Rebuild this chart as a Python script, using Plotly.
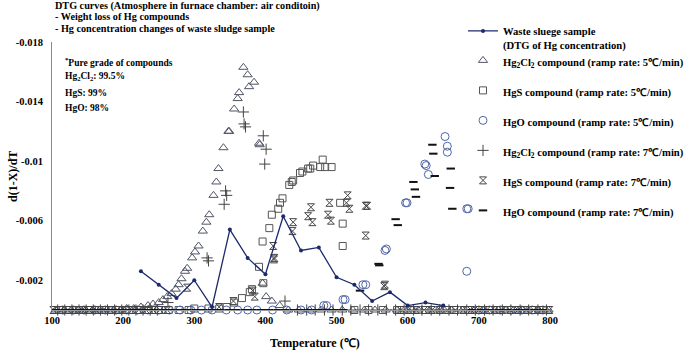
import plotly.graph_objects as go

# ---------------- data ----------------
sludge_T = [225, 250, 275, 300, 325, 350, 375, 400, 425, 450, 475, 500, 525, 550, 575, 600, 625, 650]
sludge_v = [-0.0026, -0.0017, -0.0008, -0.0020, -0.0002, -0.0054, -0.0035, -0.0024, -0.0063, -0.0040,
            -0.0042, -0.0022, -0.0017, -0.0006, -0.0012, -0.0003, -0.0005, -0.0003]

hg2cl2_5_T = [105, 118, 131, 144, 157, 170, 183, 196, 205, 215, 225, 235, 242, 250, 256, 262, 268, 274,
              278, 282, 287, 290, 297, 301, 306, 312, 317, 321, 327, 331, 334, 341, 348, 349, 356, 361,
              363, 369, 375, 377, 384, 391, 392, 396, 401, 409, 420, 432, 447, 462, 478, 493, 508, 523,
              539, 554, 569, 585, 600, 615, 631, 646, 661, 677, 692, 707, 723, 738, 753, 769, 784, 798]
hg2cl2_5_v = [0, 0, 0, 0, 0, 0, 0, 0, -0.0001, -0.0001, -0.0002, -0.0003, -0.0004, -0.0005, -0.0007,
              -0.0009, -0.0011, -0.0014, -0.0017, -0.0021, -0.0026, -0.0028, -0.0035, -0.0039, -0.0043,
              -0.0053, -0.0059, -0.0064, -0.0077, -0.0086, -0.0095, -0.0109, -0.0120, -0.0120, -0.0135,
              -0.0142, -0.0146, -0.0163, -0.0158, -0.0150, -0.0153, -0.0112, -0.0111, -0.0018, -0.0009,
              -0.0006, -0.0003, 0, 0, 0, 0, 0, 0, 0, 0, 0, 0, 0, 0, 0, 0, 0, 0, 0, 0, 0, 0, 0, 0, 0, 0, 0]

hgs_5_T = [110, 124, 138, 152, 166, 180, 194, 208, 222, 236, 250, 264, 278, 292, 300, 320, 335, 345.6,
           356, 367, 378, 381, 391, 396, 397, 405.5, 409, 418, 420.5, 424, 433.5, 437, 439, 448.6, 452,
           460, 463, 467, 477, 480.5, 484, 493, 505, 508.6, 508.6, 525, 545, 565, 585, 605, 625, 645,
           665, 685, 705, 725, 745, 765, 785]
hgs_5_v = [0, 0, 0, 0, 0, 0, 0, 0, 0, 0, 0, 0, 0, 0, -0.0001, -0.0001, -0.0001, -0.0002, -0.0005,
           -0.0008, -0.0012, -0.0014, -0.0029, -0.0046, -0.0018, -0.0055, -0.0064, -0.0068, -0.0072,
           -0.0075, -0.0084, -0.0086, -0.0087, -0.0092, -0.0093, -0.0095, -0.0095, -0.0097, -0.0096,
           -0.0101, -0.0096, -0.0096, -0.0072, -0.0058, -0.0043, 0, 0, 0, 0, 0, 0, 0, 0, 0, 0, 0, 0, 0, 0]

hgo_5_T = [115, 130, 145, 160, 175, 190, 205, 220, 235, 250, 265, 280, 295, 310, 325, 345, 361, 375,
           388, 410, 430, 450, 465, 482, 486, 509, 512, 537, 541, 568, 570, 597, 599, 624, 626, 629,
           652.5, 655.7, 655.7, 683, 685, 683, 700, 715, 730, 745, 760, 775, 790]
hgo_5_v = [0, 0, 0, 0, 0, 0, 0, 0, 0, 0, 0, 0, 0, 0, 0, 0, 0, 0, 0, 0, 0, 0, 0, -0.0003, -0.0003,
           -0.0007, -0.0007, -0.0017, -0.0017, -0.0040, -0.0041, -0.0072, -0.0072, -0.0098, -0.0097,
           -0.0091, -0.01165, -0.0110, -0.0106, -0.0068, -0.0068, -0.0026, 0, 0, 0, 0, 0, 0, 0]

hg2cl2_7_T = [108, 118, 128, 138, 148, 158, 168, 178, 188, 198, 208, 218, 228, 238, 248, 263, 318, 320,
              342, 344, 345.5, 369, 370, 372, 397, 399, 401, 427.5, 445, 458, 470, 483, 495, 508, 520,
              533, 545, 558, 570, 583, 595, 608, 620, 633, 645, 658, 670, 683, 695, 708, 720, 733, 745,
              758, 770, 783, 795]
hg2cl2_7_v = [0, 0, 0, 0, 0, 0, 0, 0, 0, 0, 0, 0, 0, 0, 0, -0.0005, -0.0035, -0.0033, -0.0071, -0.0080,
              -0.0077, -0.0133, -0.0125, -0.0123, -0.0117, -0.0098, -0.0108, -0.0006, 0, 0, 0, 0, 0, 0,
              0, 0, 0, 0, 0, 0, 0, 0, 0, 0, 0, 0, 0, 0, 0, 0, 0, 0, 0, 0, 0, 0, 0]

hgs_7_T = [102, 112, 122, 132, 142, 152, 162, 172, 182, 192, 202, 212, 222, 232, 242, 252, 262, 290,
           335, 355, 382, 385, 411, 412, 412.5, 438, 439, 460, 464, 466, 488, 490, 492, 514, 515.6,
           518, 541, 543, 541, 567, 568, 590, 601, 612, 623, 634, 645, 656, 667, 678, 689, 700, 711,
           722, 733, 744, 755, 766, 777, 788, 799]
hgs_7_v = [0, 0, 0, 0, 0, 0, 0, 0, 0, 0, 0, 0, 0, 0, 0, 0, 0, -0.0015, -0.0002, -0.0006, -0.0013,
           -0.0009, -0.0043, -0.0034, -0.0035, -0.0053, -0.0059, -0.0063, -0.0069, -0.0059, -0.0064,
           -0.0072, -0.0060, -0.0072, -0.0077, -0.0068, -0.0070, -0.0070, -0.0050, -0.0016, -0.0017,
           0, 0, 0, 0, 0, 0, 0, 0, 0, 0, 0, 0, 0, 0, 0, 0, 0, 0, 0, 0]

hgo_7_T = [106, 118, 129, 141, 152, 164, 175, 187, 198, 210, 221, 233, 244, 256, 267, 279, 290, 302,
           313, 325, 336, 348, 359, 371, 382, 394, 405, 417, 428, 440, 451, 463, 474, 486, 497, 509,
           533, 559, 560, 583, 586, 608, 610, 611.6, 634.7, 636, 638, 659.5, 660.5, 662.7, 690, 703,
           715, 728, 740, 753, 765, 778, 790]
hgo_7_v = [0, 0, 0, 0, 0, 0, 0, 0, 0, 0, 0, 0, 0, 0, 0, 0, 0, 0, 0, 0, 0, 0, 0, 0, 0, 0, 0, 0, 0, 0,
           0, 0, 0, 0, 0, 0, -0.0013, -0.0031, -0.0030, -0.0061, -0.0057, -0.0086, -0.0081, -0.0076,
           -0.0111, -0.0105, -0.0090, -0.0082, -0.0095, -0.0068, 0, 0, 0, 0, 0, 0, 0, 0, 0]

y_tickvals = [-0.018, -0.014, -0.01, -0.006, -0.002]
y_ticktext = ["-0.018", "-0.014", "-0.01", "-0.006", "-0.002"]
x_tickvals = [100, 200, 300, 400, 500, 600, 700, 800]

# ---------------- figure ----------------
SERIF = "Liberation Serif, Times New Roman, serif"
fig = go.Figure()


def add_markers(T, v, name, symbol, color, size, lw, rank):
    fig.add_trace(go.Scatter(
        x=T, y=v, mode="markers", name=name, legendgroup=name, legendrank=rank,
        legend="legend2",
        marker=dict(symbol=symbol, size=size, color=color, line=dict(color=color, width=lw)),
        cliponaxis=False,
    ))


add_markers(hg2cl2_5_T, hg2cl2_5_v, "<b>Hg<sub>2</sub>Cl<sub>2</sub> compound (ramp rate: 5℃/min)</b>",
            "triangle-up-open", "#505566", 8, 1, 2)
add_markers(hgs_5_T, hgs_5_v, "<b>HgS compound (ramp rate: 5℃/min)</b>",
            "square-open", "#555555", 7, 1, 3)
add_markers(hgo_5_T, hgo_5_v, "<b>HgO compound (ramp rate: 5℃/min)</b>",
            "circle-open", "#4f66a8", 8, 1, 4)
add_markers(hg2cl2_7_T, hg2cl2_7_v, "<b>Hg<sub>2</sub>Cl<sub>2</sub> compound (ramp rate: 7℃/min)</b>",
            "cross-thin-open", "#444444", 8, 1, 5)
add_markers(hgs_7_T, hgs_7_v, "<b>HgS compound (ramp rate: 7℃/min)</b>",
            "hourglass-open", "#444444", 7, 1, 6)
add_markers(hgo_7_T, hgo_7_v, "<b>HgO compound (ramp rate: 7℃/min)</b>",
            "line-ew-open", "#111111", 6, 2, 7)

fig.add_trace(go.Scatter(
    x=sludge_T, y=sludge_v, mode="lines+markers",
    name="<b>Waste sluege sample<br>(DTG of Hg concentration)</b>",
    legend="legend",
    line=dict(color="#1c2a6b", width=1.3),
    marker=dict(symbol="circle", size=4, color="#1c2a6b"),
    cliponaxis=False,
))

# the page's body margin is removed (see write_html below), so figure px == page px
FW, FH = 685, 352
L, R, T_, B = 52, 135, 42, 42
PW, PH = FW - L - R, FH - T_ - B


def px_x(x):
    return (x - L) / PW


def px_y(y):
    return (FH - B - y) / PH


ann = []
for txt, y in [("DTG curves (Atmosphere in furnace chamber: air conditoin)", 6),
               ("- Weight loss of Hg compounds", 16.7),
               ("- Hg concentration changes of waste sludge sample", 28.3)]:
    ann.append(dict(text=f"<b>{txt}</b>", x=px_x(53), y=px_y(y), xref="paper", yref="paper",
                    xanchor="left", yanchor="middle", showarrow=False,
                    font=dict(family=SERIF, size=10.2, color="black")))
for txt, y in [("<sup>*</sup>Pure grade of compounds", 61.7),
               ("Hg<sub>2</sub>Cl<sub>2</sub>: 99.5%", 76),
               ("HgS: 99%", 92.7),
               ("HgO: 98%", 108.3)]:
    ann.append(dict(text=f"<b>{txt}</b>", x=px_x(63), y=px_y(y), xref="paper", yref="paper",
                    xanchor="left", yanchor="middle", showarrow=False,
                    font=dict(family=SERIF, size=9.5, color="black")))
ann.append(dict(text="<b>d(1-X)/dT</b>", x=px_x(13), y=px_y(177), xref="paper", yref="paper",
                xanchor="center", yanchor="middle", showarrow=False, textangle=-90,
                font=dict(family=SERIF, size=12, color="black")))
ann.append(dict(text="<b>Temperature (℃)</b>", x=px_x(315), y=px_y(343), xref="paper", yref="paper",
                xanchor="center", yanchor="middle", showarrow=False,
                font=dict(family=SERIF, size=12, color="black")))

LEG_FONT = dict(family=SERIF, size=10.6, color="black")
TICK_FONT = dict(family=SERIF, size=10.5, color="black", weight="bold")
fig.update_layout(
    width=FW, height=FH,
    margin=dict(l=L, r=R, t=T_, b=B, autoexpand=False),
    paper_bgcolor="white", plot_bgcolor="white",
    font=dict(family=SERIF, color="black"),
    annotations=ann,
    showlegend=True,
    legend=dict(x=px_x(463), y=px_y(17.5), xanchor="left", yanchor="top",
                font=LEG_FONT, bgcolor="rgba(0,0,0,0)", valign="top", itemwidth=30),
    legend2=dict(x=px_x(463), y=px_y(47), xanchor="left", yanchor="top",
                 font=LEG_FONT, bgcolor="rgba(0,0,0,0)", tracegroupgap=11, valign="top",
                 itemwidth=30, maxheight=300),
    xaxis=dict(range=[100, 800], tickvals=x_tickvals, showgrid=False, zeroline=False,
               showline=True, linecolor="#999999", linewidth=1, ticks="",
               tickfont=TICK_FONT),
    yaxis=dict(range=[0, -0.018], tickvals=y_tickvals, ticktext=y_ticktext, showgrid=False,
               zeroline=False, showline=True, linecolor="#888888", linewidth=1, ticks="",
               ticklabelstandoff=6, tickfont=TICK_FONT),
)

fig.write_html("out.html", config={"displayModeBar": False},
               post_script="document.body.style.margin='0';")
